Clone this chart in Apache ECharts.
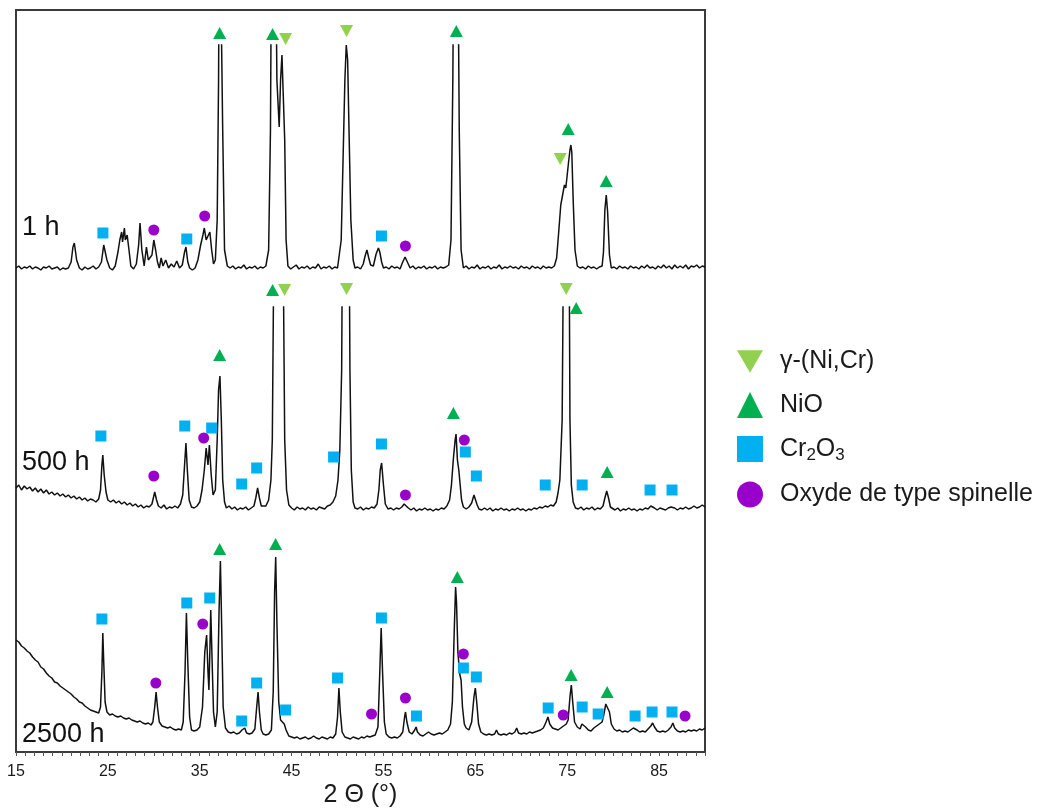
<!DOCTYPE html>
<html>
<head>
<meta charset="utf-8">
<script src="https://cdn.jsdelivr.net/npm/echarts@6/dist/echarts.min.js"></script>
<style>html,body{margin:0;padding:0;background:#fff}#c{width:1043px;height:809px}</style>
</head>
<body>
<div id="c"></div>
<script>
// ---- axis ----
const xMin = 15, xMax = 90;
const xTickLabels = [15, 25, 35, 45, 55, 65, 75, 85];
const panelLabels = ['1 h', '500 h', '2500 h'];
const phaseNames = ['γ-(Ni,Cr)', 'NiO', 'Cr2O3', 'Oxyde de type spinelle'];

// ---- traces [2θ, intensity (a.u.)] ----
const trace1h = [[15.0,12],[15.3,14],[15.6,11],[15.9,13],[16.2,12],[16.5,14],[16.8,11],[17.1,13],[17.4,12],[17.7,10],[18.0,13],[18.3,12],[18.6,14],[18.9,11],[19.2,12],[19.5,13],[19.8,10],[20.1,12],[20.4,11],[20.7,12],
[21.0,18],[21.2,33],[21.35,37],[21.6,20],[21.9,12],[22.2,10],[22.5,13],[22.8,11],[23.1,12],[23.4,14],[23.7,11],[24.0,13],[24.3,18],[24.55,35],[24.7,37],[24.9,20],[25.2,12],[25.5,10],[25.8,14],[26.1,28],[26.3,40],[26.5,48],[26.6,38],[26.8,52],[26.9,40],[27.1,45],[27.3,30],[27.5,14],[27.8,11],[28.1,16],[28.35,35],[28.5,57],[28.7,30],[28.95,14],[29.2,33],[29.4,20],[29.6,18],[29.8,25],[30.0,40],[30.2,30],[30.4,18],[30.6,12],[30.8,22],[31.0,14],[31.3,20],[31.6,12],[31.9,16],[32.2,13],[32.5,19],[32.8,12],[33.1,15],[33.35,28],[33.5,33],[33.7,18],[33.9,12],[34.2,10],[34.5,12],[34.8,20],[35.1,35],[35.35,45],[35.5,52],[35.7,40],[35.9,44],[36.1,48],[36.3,30],[36.5,16],[36.7,20],[36.9,60],[37.05,200],[37.15,400],[37.35,400],[37.5,150],[37.7,30],[38.0,14],
[38.3,12],[38.6,14],[38.9,11],[39.2,13],[39.5,12],[39.8,15],[40.1,11],[40.4,13],[40.7,12],[41.0,14],[41.3,11],[41.6,13],[41.9,12],[42.2,14],[42.5,30],[42.7,150],[42.85,400],[43.2,400],[43.4,200],[43.65,153],[43.8,200],[43.95,225],[44.1,225],[44.25,140],[44.4,40],[44.6,14],
[44.9,11],[45.2,13],[45.5,15],[45.8,11],[46.1,13],[46.4,12],[46.7,14],[47.0,11],[47.3,13],[47.6,12],[47.9,16],[48.2,11],[48.5,13],[48.8,12],[49.1,14],[49.4,11],[49.7,13],[50.0,12],[50.2,14],[50.4,40],[50.6,120],[50.8,200],[50.95,235],[51.1,220],[51.25,150],[51.45,60],[51.7,20],[51.9,12],[52.2,13],[52.5,11],[52.8,16],[53.0,24],[53.2,30],[53.4,22],[53.6,15],[53.9,14],[54.2,26],[54.45,32],[54.6,28],[54.8,18],[55.0,12],[55.3,13],[55.6,11],[55.9,14],[56.2,12],[56.5,13],[56.8,11],[57.1,18],[57.35,23],[57.6,18],[57.9,12],[58.2,14],[58.5,11],[58.8,13],[59.1,12],[59.4,14],[59.7,11],[60.0,13],[60.3,12],[60.6,14],[60.9,11],[61.2,13],[61.5,12],[61.8,13],[62.1,15],[62.35,40],[62.55,200],[62.7,400],[63.05,400],[63.25,150],[63.45,30],[63.7,12],
[64.0,14],[64.3,11],[64.6,13],[64.9,12],[65.2,15],[65.5,11],[65.8,13],[66.1,12],[66.4,14],[66.7,11],[67.0,13],[67.3,12],[67.6,15],[67.9,11],[68.2,13],[68.5,12],[68.8,14],[69.1,12],[69.4,13],[69.7,11],[70.0,14],[70.3,12],[70.6,13],[70.9,11],[71.2,14],[71.5,12],[71.8,13],[72.1,11],[72.4,14],[72.7,12],[73.0,13],[73.3,12],[73.6,14],[73.85,22],[74.05,45],[74.3,75],[74.5,85],[74.7,95],[74.85,92],[75.0,105],[75.15,118],[75.3,130],[75.4,135],[75.5,128],[75.65,80],[75.85,30],[76.1,14],[76.4,12],[76.7,13],[77.0,11],[77.3,14],[77.6,12],[77.9,13],[78.2,11],[78.5,13],[78.8,14],[78.95,28],[79.1,70],[79.25,85],[79.4,68],[79.6,25],[79.8,12],
[80.1,13],[80.4,11],[80.7,14],[81.0,12],[81.3,13],[81.6,11],[81.9,14],[82.2,12],[82.5,13],[82.8,11],[83.1,14],[83.4,12],[83.7,15],[84.0,12],[84.3,13],[84.6,11],[84.9,14],[85.2,12],[85.5,15],[85.8,12],[86.1,14],[86.4,11],[86.7,15],[87.0,12],[87.3,14],[87.6,12],[87.9,15],[88.2,11],[88.5,14],[88.8,13],[89.1,15],[89.4,12],[89.7,14],[90.0,13]];

const trace500h = [[15.0,32],[15.3,35],[15.6,30],[15.9,34],[16.2,31],[16.5,33],[16.8,29],[17.1,32],[17.4,28],[17.7,31],[18.0,27],[18.3,30],[18.6,26],[18.9,28],[19.2,25],[19.5,27],[19.8,24],[20.1,26],[20.4,23],[20.7,25],[21.0,22],[21.3,24],[21.6,21],[21.9,23],[22.2,20],[22.5,22],[22.8,19],[23.1,21],[23.4,20],[23.7,18],[24.0,21],[24.2,30],[24.35,55],[24.45,65],[24.6,45],[24.8,28],[25.0,20],[25.3,18],[25.6,20],[25.9,17],[26.2,19],[26.5,16],[26.8,18],[27.1,15],[27.4,17],[27.7,14],[28.0,16],[28.3,13],[28.6,15],[28.9,12],[29.2,14],[29.5,13],[29.8,16],[30.0,24],[30.1,28],[30.3,20],[30.5,14],[30.8,12],[31.1,15],[31.4,11],[31.7,13],[32.0,12],[32.3,14],[32.6,12],[32.9,16],[33.15,25],[33.35,55],[33.5,77],[33.65,50],[33.85,20],[34.1,13],[34.4,12],[34.7,14],[35.0,18],[35.25,30],[35.5,50],[35.7,72],[35.9,55],[36.05,75],[36.25,45],[36.45,25],[36.7,30],[36.9,80],[37.05,130],[37.2,144],[37.35,100],[37.5,40],[37.7,18],[37.9,12],[38.2,14],[38.5,11],[38.8,13],[39.1,10],[39.4,12],[39.7,11],[40.0,13],[40.3,10],[40.6,12],[40.9,14],[41.1,22],[41.3,32],[41.5,22],[41.7,14],[41.9,12],[42.2,14],[42.5,20],[42.75,40],[42.9,80],[43.05,250],[43.2,400],[43.9,400],[44.1,250],[44.25,80],[44.45,30],[44.7,15],[45.0,12],[45.3,10],[45.6,13],[45.9,11],[46.2,12],[46.5,10],[46.8,13],[47.1,11],[47.4,12],[47.7,10],[48.0,13],[48.3,12],[48.6,11],[48.9,14],[49.2,15],[49.5,18],[49.8,24],[50.05,40],[50.25,70],[50.45,150],[50.6,400],[51.2,400],[51.35,150],[51.5,50],[51.7,18],[51.9,12],[52.2,11],[52.5,13],[52.8,10],[53.1,12],[53.4,11],[53.7,13],[54.0,12],[54.3,16],[54.5,30],[54.65,50],[54.8,57],[55.0,35],[55.2,16],[55.5,11],[55.8,12],[56.1,10],[56.4,12],[56.7,11],[57.0,13],[57.25,16],[57.45,17],[57.7,12],[58.0,10],[58.3,12],[58.6,9],[58.9,11],[59.2,10],[59.5,12],[59.8,10],[60.1,11],[60.4,9],[60.7,11],[61.0,10],[61.3,12],[61.6,11],[61.9,14],[62.2,20],[62.4,35],[62.6,60],[62.8,80],[62.9,86],[63.05,60],[63.2,50],[63.35,35],[63.5,20],[63.7,13],[64.0,11],[64.3,13],[64.6,17],[64.85,25],[65.0,25],[65.2,15],[65.4,11],[65.7,10],[66.0,12],[66.3,10],[66.6,12],[66.9,9],[67.2,11],[67.5,10],[67.8,12],[68.1,10],[68.4,11],[68.7,9],[69.0,11],[69.3,10],[69.6,12],[69.9,10],[70.2,11],[70.5,9],[70.8,11],[71.1,10],[71.4,12],[71.7,11],[72.0,13],[72.3,12],[72.6,14],[72.9,13],[73.2,15],[73.5,14],[73.8,18],[74.0,27],[74.2,40],[74.45,100],[74.7,400],[75.15,400],[75.3,100],[75.45,35],[75.65,18],[75.9,12],[76.2,11],[76.5,13],[76.8,10],[77.1,12],[77.4,11],[77.7,13],[78.0,10],[78.3,12],[78.6,11],[78.9,14],[79.1,22],[79.3,29],[79.5,22],[79.7,13],[79.9,11],[80.2,10],[80.5,12],[80.8,9],[81.1,11],[81.4,10],[81.7,12],[82.0,10],[82.3,11],[82.6,9],[82.9,11],[83.2,10],[83.5,12],[83.8,11],[84.1,14],[84.3,15],[84.5,12],[84.8,10],[85.1,12],[85.4,11],[85.7,10],[86.0,12],[86.3,13],[86.5,15],[86.7,12],[87.0,10],[87.3,12],[87.6,11],[87.9,13],[88.2,11],[88.5,12],[88.8,14],[89.1,12],[89.4,13],[89.7,15],[90.0,13]];

const trace2500h = [[15.0,112],[15.3,110],[15.6,106],[15.9,104],[16.2,101],[16.5,99],[16.8,95],[17.1,92],[17.4,90],[17.7,85],[18.0,83],[18.3,79],[18.6,76],[18.9,74],[19.2,70],[19.5,69],[19.8,66],[20.1,64],[20.4,62],[20.7,60],[21.0,58],[21.3,55],[21.6,53],[21.9,50],[22.2,49],[22.5,46],[22.8,44],[23.1,42],[23.4,41],[23.7,40],[24.0,39],[24.2,45],[24.35,80],[24.45,119],[24.55,90],[24.7,50],[24.9,40],[25.2,37],[25.5,38],[25.8,36],[26.1,35],[26.4,36],[26.7,34],[27.0,33],[27.3,34],[27.6,32],[27.9,31],[28.2,30],[28.5,31],[28.8,29],[29.1,28],[29.4,29],[29.7,27],[29.9,30],[30.1,45],[30.25,60],[30.4,45],[30.6,30],[30.9,26],[31.2,25],[31.5,24],[31.8,25],[32.1,23],[32.4,22],[32.7,23],[33.0,22],[33.2,30],[33.4,80],[33.55,139],[33.7,90],[33.9,35],[34.1,22],[34.4,21],[34.7,22],[35.0,25],[35.3,45],[35.55,100],[35.75,117],[35.9,80],[36.0,62],[36.1,100],[36.2,142],[36.35,90],[36.5,40],[36.7,25],[36.9,40],[37.1,140],[37.25,191],[37.4,120],[37.55,45],[37.8,24],[38.1,20],[38.4,19],[38.7,20],[39.0,18],[39.3,19],[39.6,22],[39.9,24],[40.1,19],[40.4,18],[40.7,19],[41.0,23],[41.2,45],[41.35,60],[41.5,40],[41.7,22],[41.9,18],[42.2,17],[42.5,18],[42.8,22],[43.0,60],[43.15,160],[43.27,195],[43.4,130],[43.6,50],[43.8,32],[44.0,30],[44.2,28],[44.4,22],[44.7,16],[45.0,15],[45.3,14],[45.6,15],[45.9,13],[46.2,14],[46.5,15],[46.8,13],[47.1,14],[47.4,16],[47.7,14],[48.0,13],[48.3,15],[48.6,14],[48.9,13],[49.2,15],[49.5,14],[49.8,18],[50.0,35],[50.15,64],[50.3,40],[50.5,20],[50.8,15],[51.1,14],[51.4,13],[51.7,15],[52.0,14],[52.3,13],[52.6,15],[52.9,14],[53.2,16],[53.5,15],[53.8,16],[54.1,17],[54.4,25],[54.6,80],[54.75,124],[54.9,80],[55.1,30],[55.3,18],[55.6,15],[55.9,14],[56.2,15],[56.5,14],[56.8,16],[57.1,20],[57.3,35],[57.4,40],[57.55,30],[57.8,20],[58.1,18],[58.4,22],[58.55,25],[58.7,20],[59.0,17],[59.3,16],[59.6,18],[59.9,20],[60.2,18],[60.5,17],[60.8,18],[61.1,19],[61.4,18],[61.7,20],[62.0,22],[62.3,28],[62.5,50],[62.7,120],[62.85,165],[62.95,150],[63.1,100],[63.3,78],[63.45,72],[63.6,45],[63.8,28],[64.0,24],[64.3,22],[64.6,30],[64.85,55],[65.0,64],[65.15,50],[65.35,28],[65.6,20],[65.9,18],[66.2,17],[66.5,18],[66.8,17],[67.1,18],[67.3,22],[67.5,18],[67.8,17],[68.1,18],[68.4,17],[68.7,19],[69.0,18],[69.3,20],[69.5,24],[69.7,19],[70.0,18],[70.3,19],[70.6,18],[70.9,20],[71.2,19],[71.5,20],[71.8,21],[72.1,22],[72.4,24],[72.7,30],[72.9,35],[73.1,28],[73.4,24],[73.7,23],[74.0,22],[74.3,24],[74.6,26],[74.9,28],[75.1,32],[75.3,55],[75.45,67],[75.6,50],[75.8,30],[76.1,25],[76.4,23],[76.6,28],[76.8,30],[77.0,25],[77.3,22],[77.6,21],[77.9,24],[78.2,26],[78.5,28],[78.8,30],[79.0,38],[79.2,48],[79.4,50],[79.6,40],[79.8,28],[80.1,23],[80.4,21],[80.7,22],[81.0,20],[81.3,21],[81.6,20],[81.9,22],[82.2,24],[82.4,25],[82.6,22],[82.9,20],[83.2,21],[83.5,20],[83.8,23],[84.1,26],[84.3,29],[84.5,25],[84.8,21],[85.1,20],[85.4,21],[85.7,20],[86.0,22],[86.3,25],[86.5,29],[86.7,24],[87.0,21],[87.3,20],[87.6,21],[87.9,20],[88.2,22],[88.5,21],[88.8,22],[89.1,21],[89.4,23],[89.7,22],[90.0,24]];

// ---- phase markers [2θ, position (a.u.)] ----
const gamma1h = [[44.35,241],[50.98,249],[74.24,121]];
const nio1h = [[37.17,247],[42.93,246],[62.93,249],[75.11,151],[79.24,99]];
const cr1h = [[24.46,47],[33.59,41],[54.78,44]];
const sp1h = [[30.0,50],[35.54,64],[57.39,34]];

const gamma500h = [[44.24,230],[50.98,231],[74.89,231]];
const nio500h = [[42.93,230],[75.98,212],[37.17,165],[62.61,107],[79.35,48]];
const cr500h = [[24.24,84],[33.37,94],[36.3,92],[39.57,36],[41.2,52],[49.57,63],[54.78,76],[63.91,68],[65.11,44],[72.61,35],[76.63,35],[84.02,30],[86.41,30]];
const sp500h = [[30.0,44],[35.43,82],[57.39,25],[63.8,80]];

const gamma2500h = [];
const nio2500h = [[37.17,203],[43.26,208],[63.04,175],[75.43,77],[79.35,60]];
const cr2500h = [[24.35,133],[33.59,149],[36.09,154],[39.57,31],[41.2,69],[44.35,42],[50.0,74],[54.78,134],[58.59,36],[63.7,84],[65.11,75],[72.93,44],[76.63,45],[78.37,38],[82.39,36],[84.24,40],[86.41,40]];
const sp2500h = [[30.22,69],[35.33,128],[53.7,38],[57.39,54],[63.7,98],[74.57,37],[87.83,36]];

// ---- layout ----
const FONT = "'Liberation Sans', Arial, sans-serif";
const L = 16, R = 338;
const panels = [
  {label: panelLabels[0], trace: trace1h, m: [gamma1h, nio1h, cr1h, sp1h], top: 45, bottom: 529, ymax: 235, labelY: 228},
  {label: panelLabels[1], trace: trace500h, m: [gamma500h, nio500h, cr500h, sp500h], top: 307, bottom: 289, ymax: 213, labelY: 463},
  {label: panelLabels[2], trace: trace2500h, m: [gamma2500h, nio2500h, cr2500h, sp2500h], top: 520, bottom: 57, ymax: 232, labelY: 735}
];
const phaseStyle = [
  {symbol: 'path://M0,0L10,0L5,8.66Z', color: '#92D050', size: [13, 12]},
  {symbol: 'triangle', color: '#00B050', size: [13, 12]},
  {symbol: 'rect', color: '#00B0F0', size: 11},
  {symbol: 'circle', color: '#9900CC', size: 11}
];

const grid = [{left: L, right: R, top: 10, bottom: 57, show: true, borderColor: '#3a3a3a', borderWidth: 2, backgroundColor: 'transparent', z: 0, containLabel: false, outerBoundsMode: 'none'}];
const xAxis = [{gridIndex: 0, type: 'value', min: xMin, max: xMax, show: false}];
const yAxis = [{gridIndex: 0, type: 'value', min: 0, max: 1, show: false}];
const series = [];
const graphic = [];

panels.forEach((p, i) => {
  const gi = i + 1;
  grid.push({left: L, right: R, top: p.top, bottom: p.bottom, show: false, containLabel: false, outerBoundsMode: 'none'});
  const isBottom = i === panels.length - 1;
  xAxis.push({
    gridIndex: gi, type: 'value', min: xMin, max: xMax, interval: 1,
    show: isBottom,
    splitLine: {show: false},
    axisLine: {show: isBottom, lineStyle: {color: '#3a3a3a', width: 2}},
    axisTick: {show: isBottom, length: 4, lineStyle: {color: '#555', width: 1}},
    axisLabel: {
      show: isBottom, margin: 12, color: '#1a1a1a', fontSize: 16, fontFamily: FONT,
      formatter: v => xTickLabels.indexOf(Math.round(v)) >= 0 ? String(Math.round(v)) : ''
    },
    name: isBottom ? '2 Θ (°)' : '', nameLocation: 'middle', nameGap: 31,
    nameTextStyle: {fontSize: 25, color: '#1a1a1a', fontFamily: FONT}
  });
  yAxis.push({gridIndex: gi, type: 'value', min: 0, max: p.ymax, show: false, splitLine: {show: false}});
  series.push({
    type: 'line', xAxisIndex: gi, yAxisIndex: gi, data: p.trace,
    showSymbol: false, symbol: 'none', clip: true, silent: true,
    lineStyle: {color: '#111', width: 1.5}, z: 2
  });
  phaseStyle.forEach((ps, k) => {
    series.push({
      type: 'scatter', name: phaseNames[k], xAxisIndex: gi, yAxisIndex: gi,
      data: p.m[k], symbol: ps.symbol, symbolSize: ps.size, clip: false,
      itemStyle: {color: ps.color, opacity: 1}, z: 3, silent: true
    });
  });
  graphic.push({
    type: 'text', x: 22, y: p.labelY, z: 10,
    style: {text: p.label, font: "27px 'Liberation Sans', Arial, sans-serif", fill: '#111', verticalAlign: 'middle', textVerticalAlign: 'middle'}
  });
});

const chart = echarts.init(document.getElementById('c'), null, {renderer: 'canvas'});
chart.setOption({
  animation: false,
  backgroundColor: '#fff',
  grid, xAxis, yAxis, series, graphic,
  legend: {
    data: phaseNames, orient: 'vertical', left: 732, top: 344,
    itemWidth: 26, itemHeight: 26, itemGap: 18, selectedMode: false,
    itemStyle: {opacity: 1},
    textStyle: {
      fontSize: 25, color: '#1a1a1a', fontFamily: FONT, padding: [0, 0, 0, 12],
      rich: {
        n: {fontSize: 25, color: '#1a1a1a', fontFamily: FONT},
        s: {fontSize: 17, color: '#1a1a1a', fontFamily: FONT, padding: [12, 0, 0, 0]}
      }
    },
    formatter: name => name === 'Cr2O3' ? '{n|Cr}{s|2}{n|O}{s|3}' : name
  }
});
</script>
</body>
</html>
